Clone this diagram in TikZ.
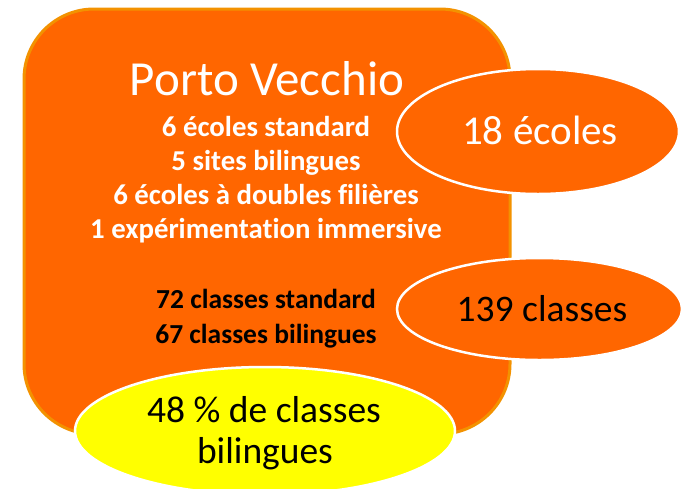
\documentclass[tikz,border=0pt]{standalone}
\usepackage{fontspec}
\setmainfont{Carlito}[Ligatures=NoCommon]
\usetikzlibrary{shapes.geometric}
\definecolor{orfill}{HTML}{FF6600}
\definecolor{orborder}{HTML}{F39200}
\definecolor{yel}{HTML}{FFFF00}
\tikzset{
  bubble/.style={ellipse, inner sep=0pt, draw=white, line width=2.5pt},
  title/.style={anchor=base, text=white, font=\fontsize{49}{55}\selectfont},
  wline/.style={anchor=base, text=white, font=\bfseries\fontsize{28.8}{32}\selectfont},
  bline/.style={anchor=base, text=black, font=\bfseries\fontsize{27.5}{32}\selectfont},
  big/.style={anchor=base, font=\fontsize{37.5}{44}\selectfont},
}
\begin{document}
\begin{tikzpicture}[x=1pt,y=-1pt]
\useasboundingbox (0,0) rectangle (690,488);
\begin{scope}
\clip (0,0) rectangle (690,488);
\draw[draw=orborder, fill=orfill, line width=3pt, rounded corners=70pt] (24,9) rectangle (510,434);
\node[bubble, fill=orfill, minimum width=282pt, minimum height=125pt] (e1) at (538,131.5) {};
\node[bubble, fill=orfill, minimum width=285pt, minimum height=102pt] (e2) at (539.5,309) {};
\node[bubble, fill=yel, minimum width=380pt, minimum height=128pt] (e3) at (265,431) {};
\end{scope}
\node[title] (t0) at (267,95) {Porto Vecchio};
\node[wline] (t1) at (266,136) {6 écoles standard};
\node[wline] (t2) at (266,170) {5 sites bilingues};
\node[wline] (t3) at (266,204) {6 écoles à doubles filières};
\node[wline] (t4) at (266,238) {1 expérimentation immersive};
\node[bline] (t5) at (266,308) {72 classes standard};
\node[bline] (t6) at (266,343) {67 classes bilingues};
\node[big, text=white, font=\fontsize{41}{46}\selectfont] (n1) at (540,144) {18 écoles};
\node[big, text=black] (n2) at (542,321) {139 classes};
\node[big, text=black] (n3) at (264,422) {48 \% de classes};
\node[big, text=black] (n4) at (265,463) {bilingues};
\end{tikzpicture}
\end{document}
